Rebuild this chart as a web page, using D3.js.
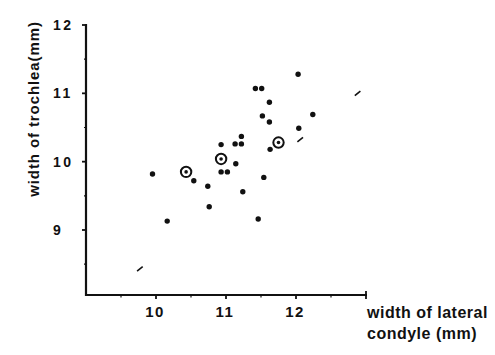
<!DOCTYPE html>
<html>
<head>
<meta charset="utf-8">
<script src="https://cdn.jsdelivr.net/npm/d3@7/dist/d3.min.js"></script>
<style>
  html, body { margin: 0; padding: 0; background: #fff; }
  svg { display: block; }
  text { font-family: "Liberation Sans", Arial, Helvetica, sans-serif; font-weight: bold; fill: #111; }
</style>
</head>
<body>
<svg id="chart" width="495" height="355"></svg>
<script>
// Data
const condyle  = [12.03, 11.42, 11.51, 11.62, 11.52, 11.62, 12.24, 12.04, 11.22, 11.13, 11.22, 10.93, 11.63,
                  9.95, 10.54, 10.93, 11.02, 11.14, 11.54, 10.74, 11.24, 10.76, 10.16, 11.46];
const trochlea = [11.28, 11.07, 11.07, 10.87, 10.67, 10.58, 10.69, 10.49, 10.37, 10.26, 10.26, 10.25, 10.18,
                  9.82, 9.72, 9.85, 9.85, 9.97, 9.77, 9.64, 9.56, 9.34, 9.13, 9.16];
// circled (mean) points
const circledX = [10.43, 10.93, 11.75];
const circledY = [9.85, 10.04, 10.28];
// visible fragments of the regression line (centres)
const lineFragX = [9.77, 12.06, 12.88];
const lineIntercept = 0.36, lineSlope = 0.826;

const xTicks = [10, 11, 12];
const xMinor = [9.5, 10.5, 11.5, 12.5];
const yTicks = [9, 10, 11, 12];
const yMinor = [8.5, 9.5, 10.5, 11.5];

const svg = d3.select("#chart");
const x = d3.scaleLinear().domain([9, 13]).range([86, 366]);
const y = d3.scaleLinear().domain([9, 12]).range([230, 25]);

// Y axis
const gy = svg.append("g").attr("transform", "translate(86,0)");
gy.append("line").attr("x1", 0).attr("x2", 0).attr("y1", y(12) - 1).attr("y2", 296)
  .attr("stroke", "#111").attr("stroke-width", 2.2);
gy.selectAll("line.maj").data(yTicks).join("line").attr("class", "maj")
  .attr("x1", -4).attr("x2", 0).attr("y1", d => y(d)).attr("y2", d => y(d))
  .attr("stroke", "#111").attr("stroke-width", 1.8);
gy.selectAll("line.min").data(yMinor).join("line").attr("class", "min")
  .attr("x1", -2).attr("x2", 0).attr("y1", d => y(d)).attr("y2", d => y(d))
  .attr("stroke", "#111").attr("stroke-width", 1.2);
svg.selectAll("text.yt").data(yTicks).join("text").attr("class", "yt")
  .attr("x", 53).attr("y", d => y(d) + 5)
  .attr("font-size", 14).attr("letter-spacing", 2.5)
  .text(d => d);

// X axis
const gx = svg.append("g").attr("transform", "translate(0,295)");
gx.append("line").attr("x1", 85).attr("x2", x(13) + 1).attr("y1", 0).attr("y2", 0)
  .attr("stroke", "#111").attr("stroke-width", 2.2);
gx.selectAll("line.maj").data(xTicks).join("line").attr("class", "maj")
  .attr("x1", d => x(d)).attr("x2", d => x(d)).attr("y1", 0).attr("y2", 4)
  .attr("stroke", "#111").attr("stroke-width", 1.8);
gx.selectAll("line.min").data(xMinor).join("line").attr("class", "min")
  .attr("x1", d => x(d)).attr("x2", d => x(d)).attr("y1", 0).attr("y2", 2.5)
  .attr("stroke", "#111").attr("stroke-width", 1.2);
gx.append("line").attr("x1", x(13)).attr("x2", x(13)).attr("y1", -4).attr("y2", 4)
  .attr("stroke", "#111").attr("stroke-width", 1.8);
svg.selectAll("text.xt").data(xTicks).join("text").attr("class", "xt")
  .attr("x", d => x(d) - 1).attr("y", 317)
  .attr("text-anchor", "middle")
  .attr("font-size", 15).attr("letter-spacing", 1.5)
  .text(d => d);

// Axis titles
svg.append("text").attr("x", 367).attr("y", 318).attr("font-size", 16).attr("letter-spacing", 0.5)
  .text("width of lateral");
svg.append("text").attr("x", 367).attr("y", 339).attr("font-size", 16).attr("letter-spacing", 0.5)
  .text("condyle (mm)");
svg.append("text").attr("transform", "translate(39,109) rotate(-90)")
  .attr("text-anchor", "middle").attr("font-size", 15).attr("letter-spacing", 0.9)
  .text("width of trochlea(mm)");

// Regression line fragments
svg.selectAll("line.reg").data(lineFragX).join("line").attr("class", "reg")
  .attr("x1", d => x(d - 0.04)).attr("y1", d => y(lineIntercept + lineSlope * (d - 0.04)))
  .attr("x2", d => x(d + 0.04)).attr("y2", d => y(lineIntercept + lineSlope * (d + 0.04)))
  .attr("stroke", "#111").attr("stroke-width", 1.6);

// Points
svg.selectAll("circle.pt").data(condyle.map((c, i) => [c, trochlea[i]])).join("circle").attr("class", "pt")
  .attr("cx", d => x(d[0])).attr("cy", d => y(d[1])).attr("r", 2.7).attr("fill", "#111");

// Circled points
const cp = circledX.map((c, i) => [c, circledY[i]]);
svg.selectAll("circle.ring").data(cp).join("circle").attr("class", "ring")
  .attr("cx", d => x(d[0])).attr("cy", d => y(d[1])).attr("r", 5.2)
  .attr("fill", "none").attr("stroke", "#111").attr("stroke-width", 2);
svg.selectAll("circle.rdot").data(cp).join("circle").attr("class", "rdot")
  .attr("cx", d => x(d[0])).attr("cy", d => y(d[1])).attr("r", 1.8).attr("fill", "#111");
</script>
</body>
</html>
